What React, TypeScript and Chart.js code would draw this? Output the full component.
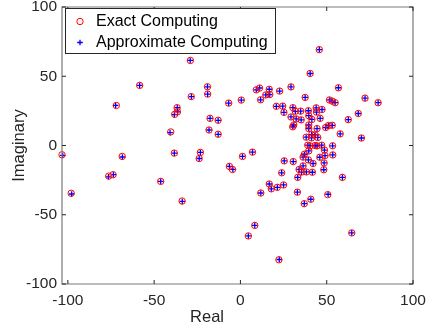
import React, { useEffect, useRef } from 'react';
import { Chart, registerables } from 'chart.js';

Chart.register(...registerables);

// ---- Data ----
const exactReal = [
  -103.4, -98.1, -76.3, -73.8, -71.9, -68.5, -58.4, -46.2, -40.4, -38.3,
  -38.1, -36.5, -36.7, -33.8, -29.0, -28.5, -23.2, -23.9, -19.1, -19.0,
  -18.2, -17.6, -12.9, -12.9, -6.8, -6.4, -4.6, 0.5, 1.2, 7.0,
  4.6, 8.3, 22.3, 64.5, 45.7, 40.4, 9.2, 11.1, 16.7, 22.7,
  29.3, 56.8, 14.7, 17.0, 37.5, 72.2, 79.8, 51.6, 53.2, 54.9,
  11.7, 20.8, 24.5, 30.4, 43.9, 47.3, 25.2, 31.8, 34.9, 39.4,
  44.1, 39.6, 68.3, 62.5, 29.3, 32.3, 35.2, 41.4, 46.2, 39.6,
  30.9, 30.3, 44.4, 49.4, 51.0, 53.2, 39.6, 57.8, 41.3, 43.3,
  38.1, 41.2, 44.8, 70.1, 39.0, 40.4, 43.3, 44.4, 47.1, 53.4,
  39.6, 37.1, 36.3, 48.7, 46.0, 49.0, 53.5, 25.4, 30.6, 42.1,
  48.5, 36.3, 39.4, 23.9, 33.2, 34.0, 35.4, 38.2, 41.7, 48.3,
  16.7, 17.9, 21.4, 25.0, 11.8, 33.0, 37.0, 40.8, 50.6, 59.1,
];
const exactImag = [
  -6.7, -34.5, -22.1, -21.1, 28.9, -7.9, 43.4, -25.9, 9.8, -5.5,
  22.5, 24.3, 27.3, -40.1, 61.4, 35.3, -5.0, -9.4, 42.4, 37.1,
  11.2, 19.6, 18.2, 8.1, 30.6, -15.1, -17.3, 32.8, -7.9, -4.8,
  -65.3, -57.7, -82.5, -63.1, 69.2, 52.0, 40.2, 41.5, 40.6, 39.3,
  42.3, 41.7, 36.5, 36.8, 34.7, 34.2, 30.9, 32.9, 32.0, 30.9,
  33.0, 28.3, 28.4, 27.3, 27.2, 26.0, 23.9, 24.7, 24.8, 25.1,
  24.1, 21.5, 23.1, 18.7, 20.6, 19.2, 18.5, 18.8, 19.6, 14.8,
  14.8, 13.5, 12.2, 13.0, 14.4, 14.6, 12.2, 8.4, 7.9, 7.6,
  6.0, 5.5, 5.8, 5.4, 0.2, -0.3, 0.0, -0.3, 0.2, -0.2,
  -3.9, -6.3, -8.4, -3.3, -8.5, -7.3, -6.8, -11.1, -11.6, -13.0,
  -12.6, -14.7, -10.4, -19.7, -23.0, -17.3, -19.2, -19.1, -19.3, -17.5,
  -27.8, -31.3, -30.2, -28.5, -34.3, -33.7, -42.0, -38.8, -35.5, -23.0,
];
const approxReal = [
  -103.0, -97.8, -76.5, -73.6, -72.3, -68.4, -58.4, -46.2, -40.8, -38.3,
  -38.3, -36.4, -36.6, -33.7, -29.1, -28.4, -23.2, -23.9, -19.1, -19.0,
  -18.2, -17.6, -12.9, -12.9, -6.8, -6.4, -4.4, 0.5, 1.2, 7.0,
  4.6, 8.3, 22.5, 64.5, 45.7, 40.4, 9.2, 11.1, 16.7, 22.7,
  29.3, 56.8, 14.7, 17.0, 37.5, 72.2, 79.8, 51.6, 53.2, 54.9,
  11.7, 20.8, 24.5, 30.4, 43.9, 47.3, 25.2, 31.8, 34.9, 39.4,
  44.1, 39.6, 68.3, 62.5, 29.3, 32.3, 35.2, 41.4, 46.2, 39.6,
  30.9, 30.3, 44.4, 49.4, 51.0, 53.2, 39.6, 57.8, 41.3, 43.3,
  38.1, 41.2, 44.8, 70.1, 39.0, 40.4, 43.3, 44.4, 47.1, 53.4,
  39.6, 37.1, 36.3, 48.7, 46.0, 49.0, 53.5, 25.4, 30.6, 42.1,
  48.5, 36.3, 39.4, 23.9, 33.2, 34.0, 35.4, 38.2, 41.7, 48.3,
  16.7, 17.9, 21.4, 25.0, 11.8, 33.0, 37.0, 40.8, 50.8, 59.1,
];
const approxImag = [
  -7.2, -35.0, -22.6, -21.1, 28.9, -8.3, 43.4, -25.9, 9.3, -5.5,
  22.3, 24.3, 27.3, -40.4, 61.4, 35.3, -5.0, -9.4, 42.4, 37.1,
  11.2, 19.6, 18.2, 8.1, 30.6, -15.1, -17.3, 32.8, -7.9, -4.8,
  -65.3, -57.7, -82.3, -63.1, 69.2, 52.0, 40.2, 41.5, 40.6, 39.3,
  42.3, 41.7, 36.5, 36.8, 34.7, 34.2, 30.9, 32.9, 32.0, 30.9,
  33.0, 28.3, 28.4, 27.3, 27.2, 26.0, 23.9, 24.7, 24.8, 25.1,
  24.1, 21.5, 23.1, 18.7, 20.6, 19.2, 18.5, 18.8, 19.6, 14.8,
  14.8, 13.5, 12.2, 13.0, 14.4, 14.6, 12.2, 8.4, 7.9, 7.6,
  6.0, 5.5, 5.8, 5.4, 0.2, -0.3, 0.0, -0.3, 0.2, -0.2,
  -3.9, -6.3, -8.4, -3.3, -8.5, -7.3, -6.8, -11.1, -11.6, -13.0,
  -12.6, -14.7, -10.4, -19.7, -23.0, -17.3, -19.2, -19.1, -19.3, -17.5,
  -27.8, -31.3, -30.2, -28.5, -34.3, -33.7, -42.0, -38.8, -35.2, -23.0,
];
const tickValues = [-100, -50, 0, 50, 100];
const xTitle = 'Real';
const yTitle = 'Imaginary';
const exactLabel = 'Exact Computing';
const approxLabel = 'Approximate Computing';

const FONT = '"Liberation Sans", Arial, Helvetica, sans-serif';
const TEXT_COLOR = '#262626';
const BOX_COLOR = '#7a7a7a';

const decorPlugin = {
  id: 'matlabDecor',
  afterDraw(chart: any) {
    const { ctx, chartArea } = chart;
    const xs = chart.scales.x;
    const ys = chart.scales.y;
    const { left, right, top, bottom } = chartArea;
    ctx.save();
    // box
    ctx.strokeStyle = BOX_COLOR;
    ctx.lineWidth = 1.2;
    ctx.beginPath();
    ctx.rect(left, top, right - left, bottom - top);
    ctx.stroke();
    // inward ticks
    const tl = 4;
    ctx.strokeStyle = TEXT_COLOR;
    ctx.lineWidth = 1;
    ctx.beginPath();
    tickValues.forEach((v) => {
      const px = xs.getPixelForValue(v);
      ctx.moveTo(px, bottom);
      ctx.lineTo(px, bottom - tl);
      ctx.moveTo(px, top);
      ctx.lineTo(px, top + tl);
      const py = ys.getPixelForValue(v);
      ctx.moveTo(left, py);
      ctx.lineTo(left + tl, py);
      ctx.moveTo(right, py);
      ctx.lineTo(right - tl, py);
    });
    ctx.stroke();

    // axis titles
    ctx.fillStyle = TEXT_COLOR;
    ctx.font = `16.5px ${FONT}`;
    ctx.textAlign = 'center';
    ctx.textBaseline = 'middle';
    ctx.fillText(xTitle, 207, 317);
    ctx.save();
    ctx.translate(19, (top + bottom) / 2);
    ctx.rotate(-Math.PI / 2);
    ctx.fillText(yTitle, 0, 0);
    ctx.restore();

    // legend
    const lx = 65.5, ly = 8.5, lw = 210, lh = 45;
    ctx.fillStyle = '#ffffff';
    ctx.fillRect(lx, ly, lw, lh);
    ctx.strokeStyle = TEXT_COLOR;
    ctx.lineWidth = 1;
    ctx.strokeRect(lx, ly, lw, lh);
    const ds = chart.data.datasets;
    const rows = [21.5, 42.5];
    ds.forEach((d: any, i: number) => {
      const cy = rows[i];
      const cx = 80;
      ctx.strokeStyle = d.borderColor;
      ctx.lineWidth = d.borderWidth;
      ctx.beginPath();
      if (d.pointStyle === 'circle') {
        ctx.arc(cx, cy, d.pointRadius, 0, Math.PI * 2);
      } else {
        const r = d.pointRadius;
        ctx.moveTo(cx - r, cy);
        ctx.lineTo(cx + r, cy);
        ctx.moveTo(cx, cy - r);
        ctx.lineTo(cx, cy + r);
      }
      ctx.stroke();
      ctx.fillStyle = '#000';
      ctx.font = `16px ${FONT}`;
      ctx.textAlign = 'left';
      ctx.textBaseline = 'middle';
      ctx.fillText(d.label, 96, cy);
    });
    ctx.restore();
  },
};

export default function App() {
  const ref = useRef<HTMLCanvasElement>(null);
  useEffect(() => {
    if (!ref.current) return;
    const fixTicks = (scale: any) => {
      scale.ticks = tickValues.map((v) => ({ value: v }));
    };
    const chart = new Chart(ref.current, {
      type: 'scatter',
      data: {
        datasets: [
          {
            label: exactLabel,
            data: exactReal.map((x, i) => ({ x, y: exactImag[i] })),
            pointStyle: 'circle',
            pointRadius: 3.2,
            borderColor: '#ff0000',
            backgroundColor: 'rgba(0,0,0,0)',
            borderWidth: 1,
            clip: false,
          } as any,
          {
            label: approxLabel,
            data: approxReal.map((x, i) => ({ x, y: approxImag[i] })),
            pointStyle: 'cross',
            pointRadius: 2.8,
            borderColor: '#0000ff',
            backgroundColor: '#0000ff',
            borderWidth: 1.3,
            clip: false,
          } as any,
        ],
      },
      options: {
        animation: false,
        responsive: false,
        events: [],
        layout: { padding: { top: 7, right: 17, left: 0, bottom: 0 } },
        plugins: { legend: { display: false }, tooltip: { enabled: false } },
        scales: {
          x: {
            type: 'linear',
            min: -103.4,
            max: 100,
            afterBuildTicks: fixTicks,
            afterFit: (s: any) => {
              s.height = 50;
              s.paddingLeft = 0;
              s.paddingRight = 0;
            },
            grid: { display: false, drawTicks: false },
            border: { display: false },
            ticks: {
              padding: 7,
              color: TEXT_COLOR,
              font: { family: FONT, size: 15.5 },
              maxRotation: 0,
            },
          },
          y: {
            type: 'linear',
            min: -100,
            max: 100,
            afterBuildTicks: fixTicks,
            afterFit: (s: any) => {
              s.width = 62;
              s.paddingTop = 0;
              s.paddingBottom = 0;
            },
            grid: { display: false, drawTicks: false },
            border: { display: false },
            ticks: {
              padding: 5,
              color: TEXT_COLOR,
              font: { family: FONT, size: 15.5 },
            },
          },
        },
      },
      plugins: [decorPlugin],
    });
    return () => chart.destroy();
  }, []);
  return (
    <div style={{ position: 'fixed', left: 0, top: 0, width: 430, height: 334, background: '#fff' }}>
      <canvas ref={ref} width={430} height={334} style={{ width: 430, height: 334 }} />
    </div>
  );
}
